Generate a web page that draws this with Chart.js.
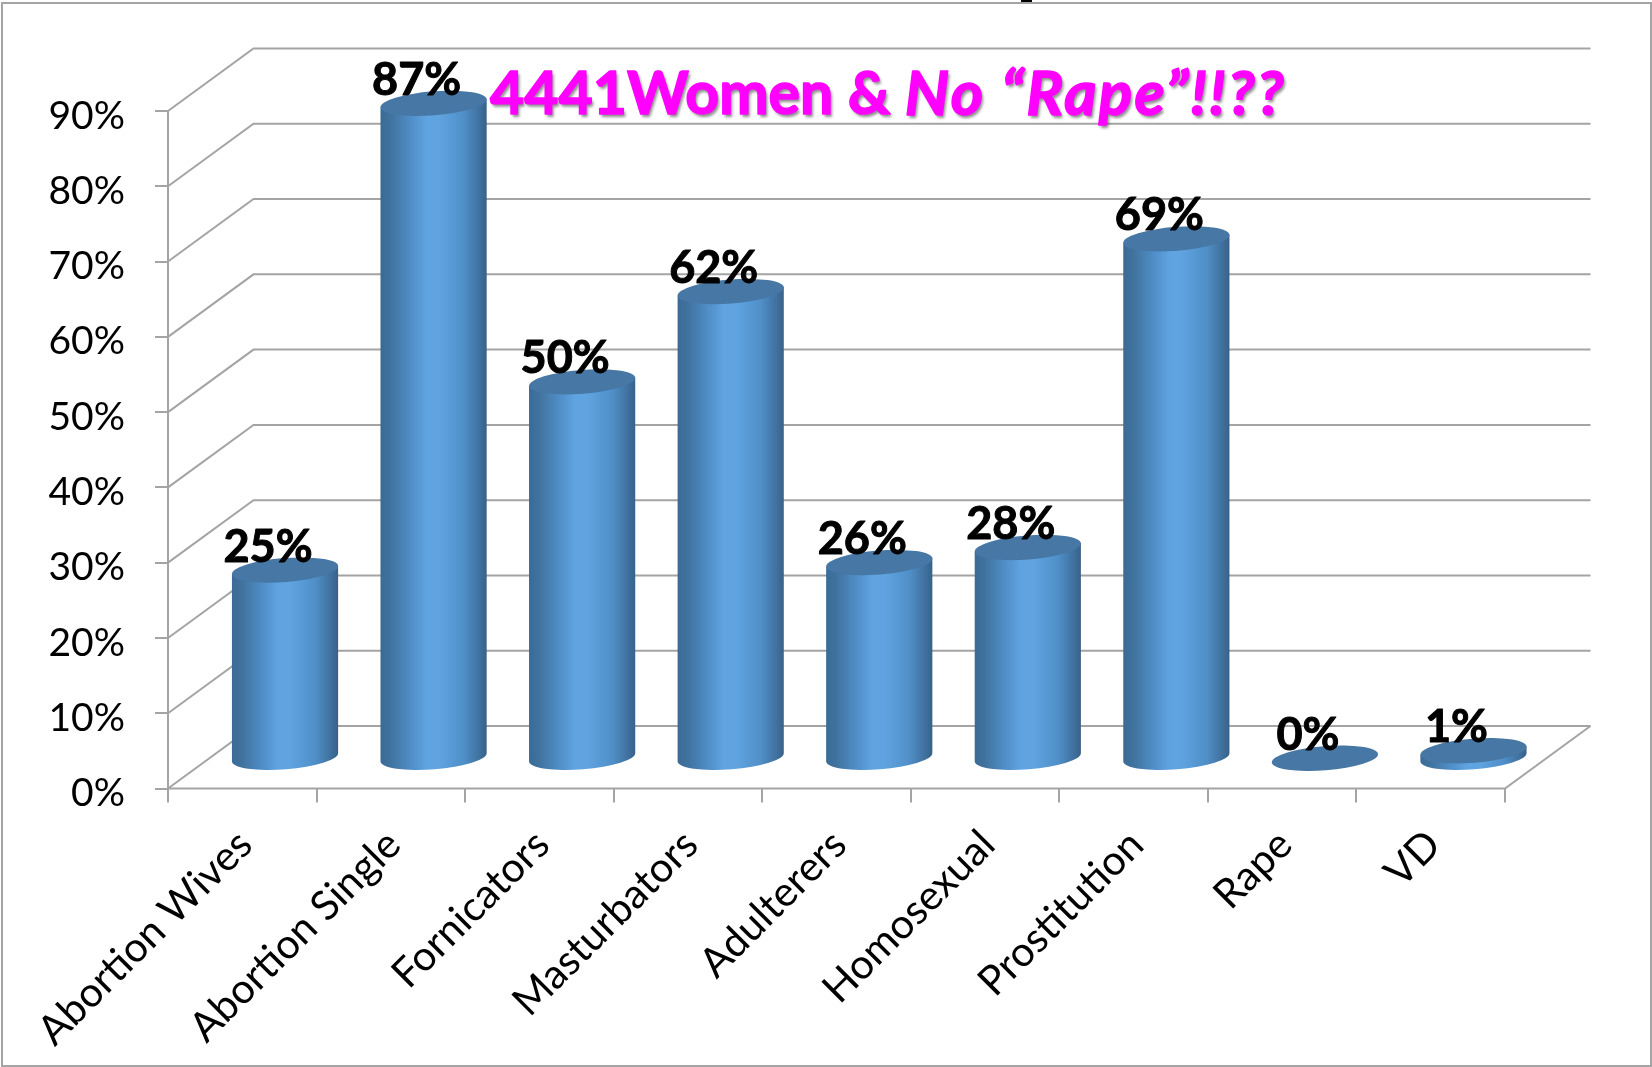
<!DOCTYPE html>
<html><head><meta charset="utf-8">
<style>html,body{margin:0;padding:0;background:#fff}canvas{display:block}</style>
<script src="https://cdn.jsdelivr.net/npm/chart.js@4"></script></head>
<body><div style="width:1652px;height:1067px;position:relative"><canvas id="c"></canvas></div>
<script>
const categories=["Abortion Wives","Abortion Single","Fornicators","Masturbators","Adulterers","Homosexual","Prostitution","Rape","VD"];
const values=[25,87,50,62,26,28,69,0,1];
const titleParts=[{t:"4441Women & ",i:false,size:59,sp:0},{t:"No \u201CRape\u201D!!??",i:true,size:62,sp:2.3}];
const DX=85.5,DY=-62.5,BAR_DY=DY/2+1,GRID="#a4a4a4",FONT="Lato";

class CylinderElement extends Chart.BarElement{
  draw(ctx){
    const cx=this.x+DX/2, top=this.y+BAR_DY, bot=this.base+BAR_DY, a=this.width/2, b=12, th=-4.5*Math.PI/180;
    const ex=a*Math.cos(th), ey=a*Math.sin(th);
    ctx.save();
    if(bot-top>0.5){
      const g=ctx.createLinearGradient(cx-ex,0,cx+ex,0);
      g.addColorStop(0,"#3b6a96");g.addColorStop(0.1,"#41739f");g.addColorStop(0.28,"#4f8dc6");
      g.addColorStop(0.43,"#5fa3e0");g.addColorStop(0.55,"#5fa3e0");g.addColorStop(0.78,"#5090c9");g.addColorStop(0.93,"#40719f");g.addColorStop(1,"#386288");
      ctx.fillStyle=g;
      ctx.beginPath();
      ctx.moveTo(cx-ex,top-ey);
      ctx.lineTo(cx-ex,bot-ey);
      ctx.ellipse(cx,bot,a,b,th,Math.PI,0,true);
      ctx.lineTo(cx+ex,top+ey);
      ctx.closePath();
      ctx.fill();
    }
    ctx.fillStyle=this.options.backgroundColor;
    ctx.beginPath();
    ctx.ellipse(cx,top,a,b,th,0,Math.PI*2);
    ctx.fill();
    ctx.restore();
  }
}
CylinderElement.id="cylinder";
CylinderElement.defaults=Chart.BarElement.defaults;
CylinderElement.defaultRoutes=Chart.BarElement.defaultRoutes;
class CylinderController extends Chart.BarController{}
CylinderController.id="cylinderBar";
CylinderController.defaults={...Chart.BarController.defaults,dataElementType:"cylinder"};
CylinderController.overrides=Chart.BarController.overrides;
Chart.register(CylinderElement,CylinderController);

const walls={id:"walls",
  beforeDraw(ch){
    const c=ch.ctx;
    c.save();c.fillStyle="#fff";c.fillRect(0,0,ch.width,ch.height);
    c.strokeStyle=GRID;c.lineWidth=2;c.strokeRect(2,3,ch.width-3,ch.height-4);
    c.fillStyle="#000";c.fillRect(1021,0,11,2);
    c.restore();
    const sy=ch.scales.y,sx=ch.scales.x;
    if(!ch.$shifted){
      sy.getLabelItems().forEach(i=>{i.options.translation[1]+=5;});
      sx.getLabelItems().forEach(i=>{i.options.translation[0]+=3;});
      ch.$shifted=true;
    }
  },
  beforeDatasetsDraw(ch){
    const c=ch.ctx,sy=ch.scales.y,{left,right,bottom,top}=ch.chartArea;
    c.save();c.strokeStyle=GRID;c.lineWidth=2;c.lineJoin="miter";
    sy.ticks.forEach(t=>{
      const y=sy.getPixelForValue(t.value);
      c.beginPath();c.moveTo(left,y);c.lineTo(left+DX,y+DY);c.lineTo(right+DX,y+DY);c.stroke();
    });
    c.beginPath();c.moveTo(left,top);c.lineTo(left,bottom);c.lineTo(right,bottom);c.lineTo(right+DX,bottom+DY);c.stroke();
    c.restore();
  },
  afterDatasetsDraw(ch){
    const c=ch.ctx,m=ch.getDatasetMeta(0);
    c.save();c.fillStyle="#000";c.strokeStyle="#000";c.lineWidth=1;c.lineJoin="round";
    c.font="bold 45px "+FONT;c.textAlign="center";c.textBaseline="middle";
    m.data.forEach((el,i)=>{
      const s=values[i]+"%",x=el.x+DX/2-17,y=el.y+DY/2-22;
      c.fillText(s,x,y);c.strokeText(s,x,y);
    });
    let x=490;const y=95;
    c.textAlign="left";c.textBaseline="middle";
    c.fillStyle="#ff00ff";c.strokeStyle="#ff00ff";c.lineWidth=1.5;
    titleParts.forEach(p=>{
      c.font=(p.i?"italic ":"")+"bold "+p.size+"px "+FONT;
      c.letterSpacing=p.sp+"px";
      c.shadowColor="rgba(0,0,0,0.45)";c.shadowOffsetX=2;c.shadowOffsetY=3;c.shadowBlur=3;
      c.fillText(p.t,x,y);
      c.shadowColor="transparent";
      c.strokeText(p.t,x,y);
      x+=c.measureText(p.t).width;
    });
    c.restore();
  }
};

new Chart(document.getElementById("c"),{
  type:"cylinderBar",
  data:{labels:categories,datasets:[{data:values,backgroundColor:"#4777a4",borderWidth:0,barPercentage:0.717,categoryPercentage:1,clip:false}]},
  options:{
    responsive:true,maintainAspectRatio:false,animation:false,devicePixelRatio:1,
    layout:{padding:{left:0,top:111,right:147,bottom:0}},
    plugins:{legend:{display:false},tooltip:{enabled:false},title:{display:false}},
    scales:{
      x:{type:"category",offset:true,
        grid:{offset:true,drawOnChartArea:false,drawTicks:true,tickLength:14,color:GRID,lineWidth:2},
        border:{display:false},
        ticks:{minRotation:45,maxRotation:45,autoSkip:false,color:"#000",padding:18,font:{family:FONT,size:41}},
        afterFit(s){s.height=278.5;}},
      y:{min:0,max:90,
        grid:{drawOnChartArea:false,drawTicks:true,tickLength:13,color:GRID,lineWidth:2},
        border:{display:false},
        ticks:{stepSize:10,color:"#000",padding:30,callback:v=>v+"%",font:{family:FONT,size:39}},
        afterFit(s){s.width=168;}}
    }
  },
  plugins:[walls]
});
</script></body></html>
